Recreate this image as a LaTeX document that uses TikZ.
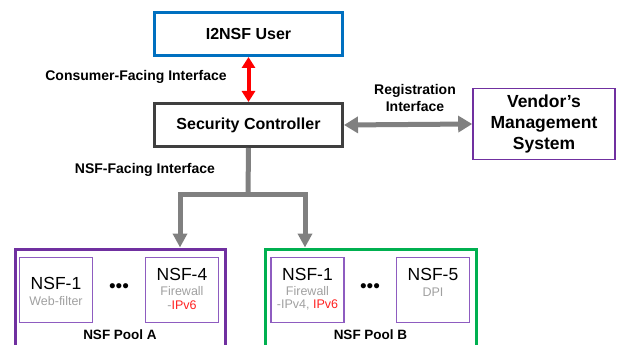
\documentclass[tikz,border=0pt]{standalone}
\usepackage{fontspec}
\setmainfont{Liberation Sans}
\usetikzlibrary{arrows.meta,positioning}
\definecolor{ublue}{HTML}{0070C0}
\definecolor{ctrlgray}{HTML}{3F3F3F}
\definecolor{vpurple}{HTML}{7030A0}
\definecolor{ipurple}{HTML}{8E5CC0}
\definecolor{pgreen}{HTML}{00B050}
\definecolor{agray}{HTML}{808080}
\definecolor{tgray}{HTML}{A0A0A0}
\definecolor{ired}{HTML}{FF2020}
\tikzset{
  topbox/.style={draw, line width=3pt, minimum width=188pt, minimum height=43pt, font=\fontsize{16}{19}\selectfont\bfseries, inner sep=0pt},
  nsfbox/.style={draw=ipurple, line width=1.6pt, minimum width=73pt, minimum height=65pt, inner sep=0pt},
  lbl/.style={font=\fontsize{14}{17}\selectfont\bfseries, align=center},
  poollbl/.style={font=\fontsize{13.5}{16}\selectfont\bfseries},
  garrow/.style={draw=agray, line width=5pt, -{Triangle[length=14pt,width=14pt]}},
  nsfname/.style={font=\fontsize{17.5}{19}\selectfont},
  nsfsub/.style={font=\fontsize{12.5}{14}\selectfont, text=tgray, align=center, inner sep=0pt},
  dots/.style={font=\fontsize{19}{19}\selectfont, inner sep=0pt}
}
\begin{document}
\begin{tikzpicture}[x=1pt,y=-1pt]
\useasboundingbox (0,0) rectangle (625,345);
\node[topbox, draw=ublue] (user) at (248.5,34) {I2NSF User};
\node[topbox, draw=ctrlgray] (ctrl) at (248.5,125) {Security Controller};
\node[draw=vpurple, line width=1.6pt, minimum width=142pt, minimum height=71pt, inner sep=0pt,
      font=\fontsize{17.5}{21}\selectfont\bfseries, align=center] (vendor) at (544,124) {Vendor’s\\Management\\System};

% pools
\node[draw=vpurple, line width=3pt, minimum width=210pt, minimum height=98pt, inner sep=0pt] (poolA) at (120,298) {};
\node[draw=pgreen, line width=3pt, minimum width=211pt, minimum height=98pt, inner sep=0pt] (poolB) at (370.5,298) {};
\node[poollbl] (poolAl) at (120,335) {NSF Pool A};
\node[poollbl] (poolBl) at (370.5,335) {NSF Pool B};

% NSF boxes
\node[nsfbox] (a1) at (56,290) {};
\node[nsfname] (a1n) at (56,283) {NSF-1};
\node[nsfsub] (a1s) at (56,301) {Web-filter};
\node[dots] (adots) at (119,288) {•••};
\node[nsfbox] (a4) at (182,290) {};
\node[nsfname] (a4n) at (182,274) {NSF-4};
\node[nsfsub] (a4s) at (182,291) {Firewall};
\node[nsfsub] (a4t) at (182,305) {-\textcolor{ired}{IPv6}};

\node[nsfbox] (b1) at (307.5,290) {};
\node[nsfname] (b1n) at (307.5,274) {NSF-1};
\node[nsfsub] (b1s) at (307.5,291) {Firewall};
\node[nsfsub] (b1t) at (307.5,305) {-IPv4, \textcolor{ired}{IPv6}};
\node[dots] (bdots) at (370,288) {•••};
\node[nsfbox] (b5) at (433,290) {};
\node[nsfname] (b5n) at (433,274) {NSF-5};
\node[nsfsub] (b5s) at (433,292) {DPI};

% labels
\node[lbl] (cfi) at (136,77) {Consumer-Facing Interface};
\node[lbl] (reg) at (415,98) {Registration\\Interface};
\node[lbl] (nfi) at (145,170) {NSF-Facing Interface};

% connectors
\draw[draw=red, line width=4pt, {Triangle[length=11pt,width=13pt]}-{Triangle[length=11pt,width=13pt]}] (user.south) -- (ctrl.north);
\draw[draw=agray, line width=5pt, {Triangle[length=14pt,width=16pt]}-{Triangle[length=14pt,width=16pt]}] (ctrl.east) -- (vendor.west);
\coordinate (split) at (248,195);
\coordinate (la) at (180,195);
\coordinate (rb) at (305,195);
\draw[draw=agray, line width=5pt] (ctrl.south) -- (split);
\draw[garrow] (split) -- (la) -- (la |- poolA.north);
\draw[garrow] (split) -- (rb) -- (rb |- poolB.north);
\end{tikzpicture}
\end{document}
